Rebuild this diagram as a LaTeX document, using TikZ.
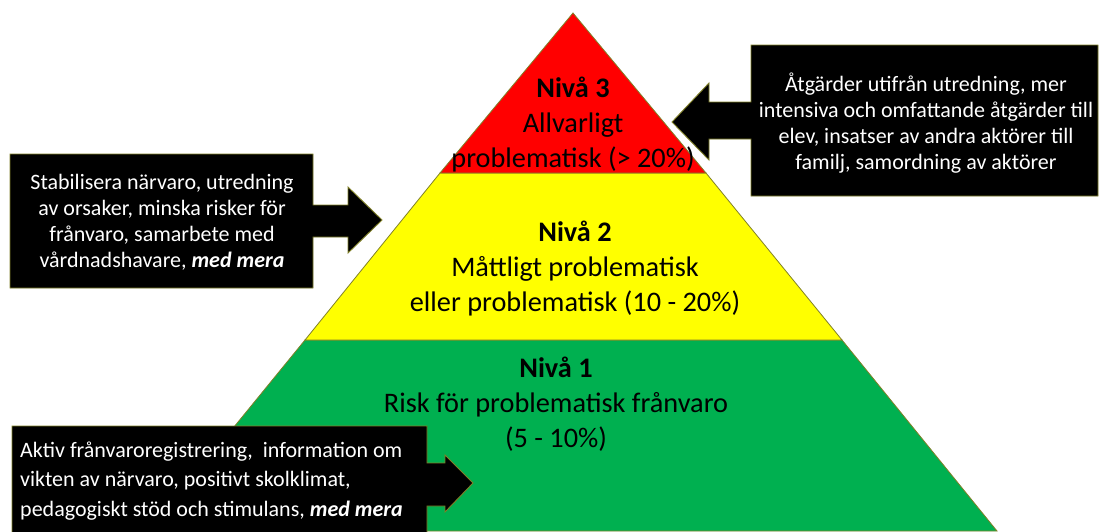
\documentclass[tikz,border=0pt]{standalone}
\usepackage{fontspec}
\setmainfont{Carlito}
\definecolor{lvred}{RGB}{255,0,0}
\definecolor{lvyellow}{RGB}{255,255,0}
\definecolor{lvgreen}{RGB}{0,176,80}
\definecolor{olive}{RGB}{128,128,40}
\tikzset{
  level/.style={draw=olive,line width=0.8pt,line join=miter},
  callout/.style={fill=black,draw=olive,line width=0.9pt,line join=miter},
  halo/.style={draw=white,line width=4pt,line join=miter},
  pyrtext/.style={align=center,font=\fontsize{28.3}{35}\selectfont,text=black,inner sep=0pt},
  boxtext/.style={align=center,font=\fontsize{22}{26}\selectfont,text=white,inner sep=0pt},
}
\begin{document}
\begin{tikzpicture}[x=1pt,y=-1pt]
\useasboundingbox (0,0) rectangle (1099,531);
% pyramid
\coordinate (apex) at (573,13);
\coordinate (rl) at (440,173); \coordinate (rr) at (706,173);
\coordinate (yl) at (305,340); \coordinate (yr) at (842,340);
\coordinate (gl) at (149,531); \coordinate (gr) at (997,531);
\draw[level,fill=lvgreen] (yl) -- (yr) -- (gr) -- (gl) -- cycle;
\draw[level,fill=lvyellow] (rl) -- (rr) -- (yr) -- (yl) -- cycle;
\draw[level,fill=lvred] (apex) -- (rr) -- (rl) -- cycle;
\node[pyrtext] (n3) at (573,125) {\textbf{Nivå 3}\\Allvarligt\\problematisk (> 20\%)};
\node[pyrtext] (n2) at (575,269) {\textbf{Nivå 2}\\Måttligt problematisk\\eller problematisk (10 - 20\%)};
\node[pyrtext] (n1) at (556,404) {\textbf{Nivå 1}\\Risk för problematisk frånvaro\\(5 - 10\%)};
% right callout
\path[halo] (751,45) -- (1098,45) -- (1098,196) -- (751,196) -- (751,139) -- (709,139) -- (709,160) -- (672,122) -- (709,83) -- (709,102) -- (751,102) -- cycle;
\path[callout] (751,45) -- (1098,45) -- (1098,196) -- (751,196) -- (751,139) -- (709,139) -- (709,160) -- (672,122) -- (709,83) -- (709,102) -- (751,102) -- cycle;
\node[boxtext] (t3) at (926,123) {Åtgärder utifrån utredning, mer\\intensiva och omfattande åtgärder till\\elev, insatser av andra aktörer till\\familj, samordning av aktörer};
% middle-left callout
\path[halo] (10,154) -- (313,154) -- (313,205) -- (348,205) -- (348,187) -- (382,220) -- (348,253) -- (348,237) -- (313,237) -- (313,288) -- (10,288) -- cycle;
\path[callout] (10,154) -- (313,154) -- (313,205) -- (348,205) -- (348,187) -- (382,220) -- (348,253) -- (348,237) -- (313,237) -- (313,288) -- (10,288) -- cycle;
\node[boxtext] (t2) at (162,222) {Stabilisera närvaro, utredning\\av orsaker, minska risker för\\frånvaro, samarbete med\\vårdnadshavare, \textbf{\textit{med mera}}};
% bottom-left callout
\path[callout] (12,426) -- (427,426) -- (427,463) -- (445,463) -- (445,455) -- (473,483) -- (445,512) -- (445,506) -- (427,506) -- (427,540) -- (12,540) -- cycle;
\node[boxtext,align=left,font=\fontsize{22}{29.5}\selectfont,anchor=west] (t1) at (20,481) {Aktiv frånvaroregistrering,\ \ information om\\vikten av närvaro, positivt skolklimat,\\pedagogiskt stöd och stimulans, \textbf{\textit{med mera}}};
\end{tikzpicture}
\end{document}
